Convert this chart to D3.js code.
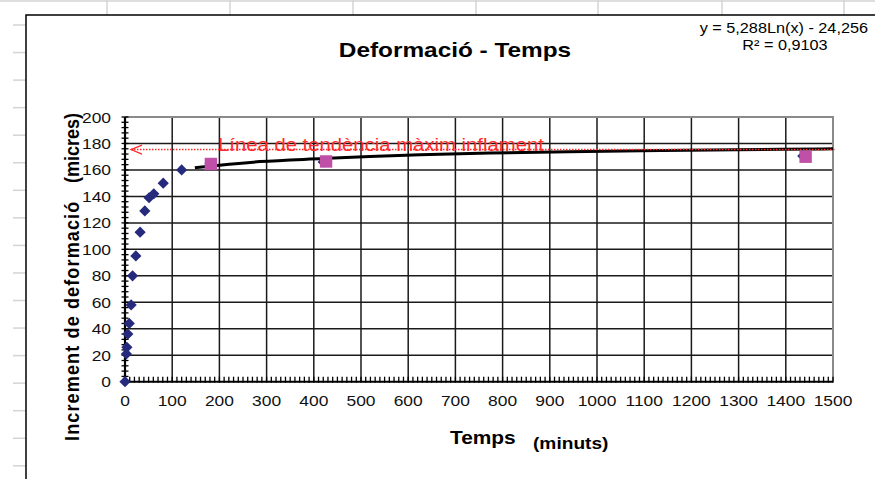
<!DOCTYPE html>
<html><head><meta charset="utf-8">
<script src="https://cdn.jsdelivr.net/npm/d3@7"></script>
<style>
body{margin:0;background:#fff}
svg{display:block}
text{font-family:"Liberation Sans",Arial,Helvetica,sans-serif}
</style>
</head><body>
<svg id="chart" width="875" height="479"></svg>
<script>
// Measured deformation (blue) over time in minutes
const blueTimes = [0, 3, 4, 6, 9, 13, 16, 23, 32, 42, 51, 61, 81, 120, 180, 420, 1436];
const blueDef   = [0, 21, 26, 36, 44, 58, 80, 95, 113, 129, 139, 142, 150, 160, 165, 166, 170.5];
// Later readings (magenta squares)
const pinkTimes = [182, 426, 1442];
const pinkDef   = [164.5, 166.4, 170];
// Logarithmic trend curve samples
const trendTimes = [148, 200, 286, 420, 519, 625, 773, 939, 1140, 1392, 1500];
const trendDef   = [161.6, 163.6, 166.3, 168.6, 170.2, 171.5, 172.8, 173.8, 174.7, 175.6, 176.0];
// Maximum-swelling reference level
const maxLevel = 175.4;
const xTicks = d3.range(0, 1501, 100);
const yTicks = d3.range(0, 201, 20);
const xMinor = d3.range(0, 1501, 10);
const yMinor = d3.range(0, 201, 4);

const title = "Deformació - Temps";
const eqLine1 = "y = 5,288Ln(x) - 24,256";
const eqLine2 = "R² = 0,9103";
const refLabel = "Línea de tendència màxim inflament";

const SX = 1.16; // horizontal glyph stretch
const svg = d3.select("#chart");

// worksheet cells behind the chart object
const sheet = svg.append("g").attr("stroke", "#d4d4d4").attr("stroke-width", 1.5);
sheet.append("line").attr("x1", 0).attr("x2", 875).attr("y1", 1).attr("y2", 1);
[107, 230, 353, 476, 598, 722, 844].forEach(x =>
  sheet.append("line").attr("x1", x).attr("x2", x).attr("y1", 0).attr("y2", 15));
d3.range(25, 479, 27.55).forEach(y =>
  sheet.append("line").attr("x1", 13).attr("x2", 26).attr("y1", y).attr("y2", y));

// chart object frame
svg.append("rect").attr("x", 26).attr("y", 15).attr("width", 900).attr("height", 500)
  .attr("fill", "#fff").attr("stroke", "#000").attr("stroke-width", 1.5);

const x = d3.scaleLinear().domain([0, 1500]).range([125, 833]);
const y = d3.scaleLinear().domain([0, 200]).range([381.7, 117]);

function stext(parent, tx, ty, str, size, opts = {}) {
  const g = parent.append("g").attr("transform", `translate(${tx},${ty}) scale(${SX},1)`);
  return g.append("text").attr("x", 0).attr("y", 0)
    .attr("font-size", size)
    .attr("font-weight", opts.weight || "normal")
    .attr("text-anchor", opts.anchor || "start")
    .attr("fill", opts.fill || "#000")
    .text(str);
}

// gridlines
const grid = svg.append("g").attr("stroke", "#1a1a1a").attr("stroke-width", 1.5);
grid.selectAll(".gx").data(xTicks.filter(d => d > 0 && d < 1500)).join("line")
  .attr("x1", d => x(d)).attr("x2", d => x(d)).attr("y1", y(0)).attr("y2", y(200));
grid.selectAll(".gy").data(yTicks.filter(d => d > 0 && d < 200)).join("line")
  .attr("x1", x(0)).attr("x2", x(1500)).attr("y1", d => y(d)).attr("y2", d => y(d));

// plot area border (top / right)
svg.append("path")
  .attr("d", `M${x(0)},${y(200)}H${x(1500)}V${y(0)}`)
  .attr("fill", "none").attr("stroke", "#8a8a8a").attr("stroke-width", 2);

// axes
const axes = svg.append("g").attr("stroke", "#000");
axes.append("line").attr("x1", x(0)).attr("x2", x(1500)).attr("y1", y(0)).attr("y2", y(0)).attr("stroke-width", 2);
axes.append("line").attr("x1", x(0)).attr("x2", x(0)).attr("y1", y(0)).attr("y2", y(200)).attr("stroke-width", 2.2);
axes.selectAll(".mx").data(xMinor).join("line")
  .attr("x1", d => x(d)).attr("x2", d => x(d)).attr("y1", y(0) - 5).attr("y2", y(0) + 1)
  .attr("stroke-width", 1.3);
axes.selectAll(".my").data(yMinor).join("line")
  .attr("x1", x(0) - 3.5).attr("x2", x(0) + 3.5).attr("y1", d => y(d)).attr("y2", d => y(d))
  .attr("stroke-width", 1.3);

// tick labels
const lbl = svg.append("g");
yTicks.forEach(d => stext(lbl, 111, y(d) + 5.5, String(d), 15, { anchor: "end", fill: "#111" }));
xTicks.forEach(d => stext(lbl, x(d), 406, String(d), 15, { anchor: "middle", fill: "#111" }));

// titles
stext(svg, 455, 57, title, 21, { anchor: "middle", weight: "bold" });
stext(svg, 450, 444, "Temps", 18, { weight: "bold" });
stext(svg, 533, 449, "(minuts)", 16.5, { weight: "bold" });
const yt = svg.append("g").attr("transform", `translate(79,441) rotate(-90) scale(1,${SX})`);
yt.append("text").attr("font-size", 18).attr("font-weight", "bold")
  .attr("letter-spacing", 1.15).text("Increment de deformació");
const yt2 = svg.append("g").attr("transform", `translate(79,113) rotate(-90) scale(1,${SX})`);
yt2.append("text").attr("font-size", 18).attr("font-weight", "bold").attr("text-anchor", "end").text("(micres)");

// trend equation
stext(svg, 868, 33, eqLine1, 14, { anchor: "end" });
stext(svg, 785, 50, eqLine2, 14, { anchor: "middle" });

// trend curve
const line = d3.line().x(d => x(d[0])).y(d => y(d[1])).curve(d3.curveMonotoneX);
svg.append("path")
  .datum(trendTimes.map((t, i) => [t, trendDef[i]]))
  .attr("d", line).attr("fill", "none").attr("stroke", "#000").attr("stroke-width", 3);

// maximum-swelling reference line with arrow
const red = "#ff2b2b";
svg.append("line").attr("x1", x(0) + 6).attr("x2", x(1500) + 3)
  .attr("y1", y(maxLevel)).attr("y2", y(maxLevel))
  .attr("stroke", red).attr("stroke-width", 1.5).attr("stroke-dasharray", "1.5 1.5");
svg.append("path")
  .attr("d", `M${x(0) + 17},${y(maxLevel) - 4.5}L${x(0) + 6},${y(maxLevel)}L${x(0) + 17},${y(maxLevel) + 4.5}`)
  .attr("fill", "none").attr("stroke", red).attr("stroke-width", 1.3);
stext(svg, 218, 150.5, refLabel, 17.5, { fill: red });

// markers
const blue = "#262a7c";
svg.append("g").selectAll("path").data(blueTimes.map((t, i) => [t, blueDef[i]])).join("path")
  .attr("d", d3.symbol(d3.symbolDiamond2, 80))
  .attr("transform", d => `translate(${x(d[0])},${y(d[1])})`)
  .attr("fill", blue);
svg.append("g").selectAll("rect").data(pinkTimes.map((t, i) => [t, pinkDef[i]])).join("rect")
  .attr("x", d => x(d[0]) - 6.2).attr("y", d => y(d[1]) - 6.2)
  .attr("width", 12.4).attr("height", 12.4)
  .attr("fill", "#c04fa8");
</script>
</body></html>
